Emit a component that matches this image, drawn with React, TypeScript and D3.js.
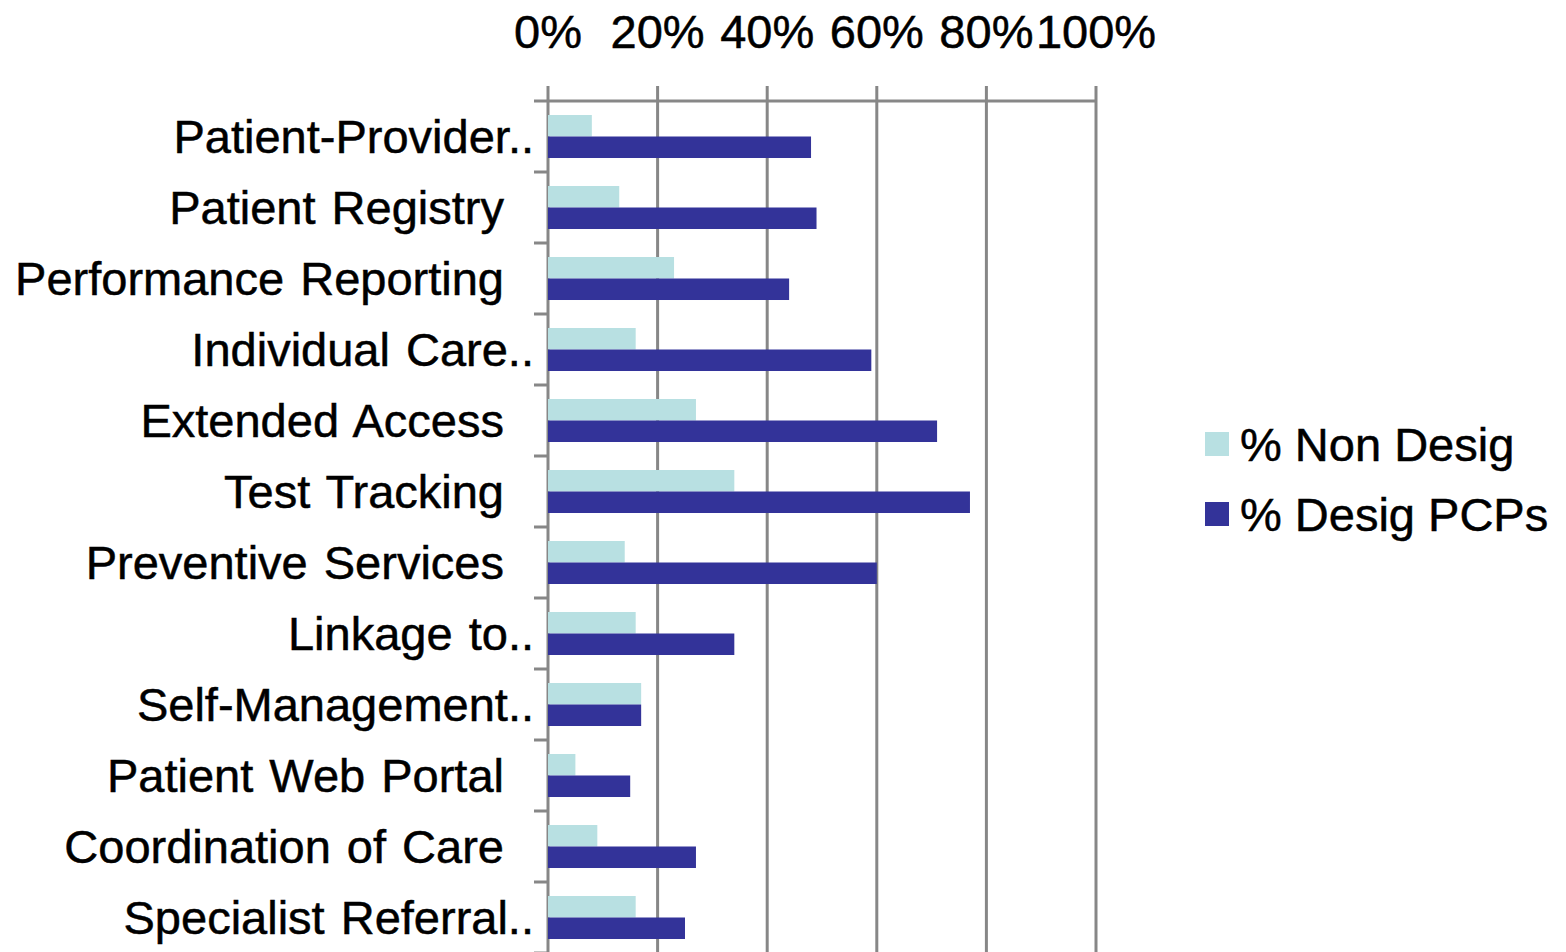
import React from 'react';
import * as d3 from 'd3';

const categories = [
  'Patient-Provider..',
  'Patient Registry',
  'Performance Reporting',
  'Individual Care..',
  'Extended Access',
  'Test Tracking',
  'Preventive Services',
  'Linkage to..',
  'Self-Management..',
  'Patient Web Portal',
  'Coordination of Care',
  'Specialist Referral..',
];
const nonDesig = [8, 13, 23, 16, 27, 34, 14, 16, 17, 5, 9, 16];
const desigPCPs = [48, 49, 44, 59, 71, 77, 60, 34, 17, 15, 27, 25];
const seriesNames = ['% Non Desig', '% Desig PCPs'];
const seriesColors = ['#B8E0E2', '#333399'];
const xTicks = [0, 20, 40, 60, 80, 100];

const font = '"Liberation Sans", Arial, sans-serif';
const fs = 47;

export default function App() {
  const x = d3.scaleLinear().domain([0, 100]).range([548, 1096]);
  const y = d3.scaleBand().domain(categories).range([101, 953]).padding(0);
  const sub = d3
    .scaleBand()
    .domain(seriesNames)
    .range([0, y.step()])
    .paddingInner(0)
    .paddingOuter(0.651);
  const values = [nonDesig, desigPCPs];
  const gridCl = '#878787';

  return (
    <svg
      width={1566}
      height={952}
      style={{ position: 'absolute', left: 0, top: 0, background: '#fff' }}
      fontFamily={font}
    >
      {/* vertical gridlines */}
      {xTicks.map((t) => (
        <line key={'g' + t} x1={x(t)} x2={x(t)} y1={86} y2={952} stroke={gridCl} strokeWidth={3} />
      ))}
      {/* top axis line */}
      <line x1={534} x2={x(100)} y1={101} y2={101} stroke={gridCl} strokeWidth={3} />
      {/* category ticks */}
      {categories.map((c) => (
        <line key={'t' + c} x1={534} x2={548} y1={(y(c) as number) + y.step()} y2={(y(c) as number) + y.step()} stroke={gridCl} strokeWidth={3} />
      ))}
      {/* bars */}
      {categories.map((c, i) => (
        <g key={'b' + c} transform={`translate(0,${y(c)})`}>
          {seriesNames.map((s, j) => (
            <rect
              key={s}
              x={x(0)}
              y={sub(s)}
              width={x(values[j][i]) - x(0)}
              height={sub.bandwidth()}
              fill={seriesColors[j]}
            />
          ))}
        </g>
      ))}
      <g fill="#000" stroke="#000" strokeWidth={0.5}>
        {/* x tick labels */}
        {xTicks.map((t) => (
          <text key={'l' + t} x={x(t)} y={48} fontSize={fs} textAnchor="middle">
            {t + '%'}
          </text>
        ))}
        {/* category labels */}
        {categories.map((c) => (
          <text
            key={'c' + c}
            x={c.endsWith('..') ? 534 : 504}
            y={(y(c) as number) + y.step() / 2 + 16.5}
            fontSize={fs}
            wordSpacing={3}
            textAnchor="end"
          >
            {c}
          </text>
        ))}
        {/* legend */}
        {seriesNames.map((s, j) => (
          <g key={'lg' + s} transform={`translate(1205,${432 + j * 70})`}>
            <rect x={0} y={0} width={24} height={24} fill={seriesColors[j]} stroke="none" />
            <text x={35} y={29} fontSize={fs}>
              {s}
            </text>
          </g>
        ))}
      </g>
    </svg>
  );
}
